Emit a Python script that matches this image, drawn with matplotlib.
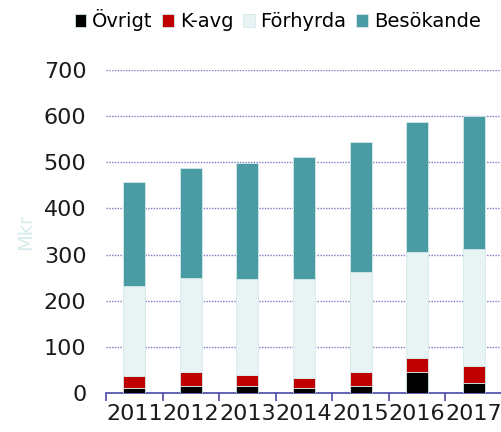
import matplotlib.pyplot as plt
import numpy as np

years = ['2011', '2012', '2013', '2014', '2015', '2016', '2017']
ovrigt = [12, 15, 15, 12, 15, 45, 21]
kavg = [25, 31, 25, 21, 31, 32, 37]
forhyrda = [195, 204, 207, 214, 216, 228, 255]
besokande = [226, 238, 251, 265, 283, 283, 287]

series = [('Övrigt', ovrigt, '#000000'),
          ('K-avg', kavg, '#C00000'),
          ('Förhyrda', forhyrda, '#E8F4F4'),
          ('Besökande', besokande, '#4A9BA3')]

fig = plt.figure(figsize=(5.02, 4.32), dpi=100)
ax = fig.add_axes([0.211, 0.090, 0.789, 0.748])

x = np.arange(len(years))
bottom = np.zeros(len(years))
handles = []
for name, vals, col in series:
    b = ax.bar(x, vals, 0.39, bottom=bottom, color=col, label=name,
               edgecolor='#d4e9ea', linewidth=0.6, zorder=3)
    handles.append(b)
    bottom += np.array(vals)

ax.set_xlim(-0.5, 6.5)
ax.set_ylim(0, 700)
ax.set_yticks(range(0, 701, 100))
ax.yaxis.grid(True, color='#7a7ac4', linestyle=(0, (1, 1)), linewidth=1.0, zorder=0)
ax.set_axisbelow(True)

for s in ['left', 'right', 'top']:
    ax.spines[s].set_visible(False)
ax.spines['bottom'].set_color('#4a4aa8')
ax.spines['bottom'].set_linewidth(1.2)

ax.set_xticks(x)
ax.set_xticklabels(years, fontsize=16, color='#1a1a1a')
ax.set_xticks(np.arange(-0.5, 7.0, 1.0), minor=True)
ax.tick_params(axis='x', which='major', length=0, pad=8)
ax.tick_params(axis='x', which='minor', length=6, width=1.2, color='#4a4aa8', direction='out')
ax.tick_params(axis='y', length=0, pad=14, labelsize=16, labelcolor='#1a1a1a')

ax.set_ylabel('Mkr', color='#d6ecec', fontsize=14, labelpad=6)

fig.legend(handles=handles, labels=[s[0] for s in series],
           loc='center', bbox_to_anchor=(0.553, 0.953), ncol=4,
           frameon=False, fontsize=14, handlelength=0.6, handleheight=0.6,
           handletextpad=0.3, columnspacing=0.5, borderaxespad=0)

fig.savefig('out.png', dpi=100)
